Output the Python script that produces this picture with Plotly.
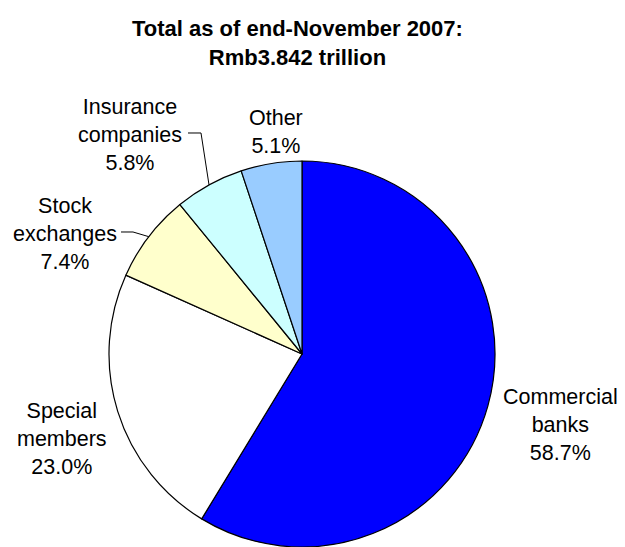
import math
import plotly.graph_objects as go

# ---- data ----
categories = ["Commercial banks", "Special members", "Stock exchanges",
              "Insurance companies", "Other"]
shares = [58.7, 23.0, 7.4, 5.8, 5.1]
label_texts = ["Commercial<br>banks<br>58.7%", "Special<br>members<br>23.0%",
               "Stock<br>exchanges<br>7.4%", "Insurance<br>companies<br>5.8%",
               "Other<br>5.1%"]
colors = ["#0000FF", "#FFFFFF", "#FFFFCC", "#CCFFFF", "#99CCFF"]
title_text = "<b>Total as of end-November 2007:<br>Rmb3.842 trillion</b>"

W, H = 625, 547
FONT = "Liberation Sans, Arial, sans-serif"

# pie geometry in pixels
cx, cy, r = 302, 354, 193

def px(x):
    return x / W

def py(y):
    return 1 - y / H

fig = go.Figure(go.Pie(
    labels=categories,
    values=shares,
    sort=False,
    direction="clockwise",
    rotation=0,
    textinfo="none",
    hoverinfo="label+percent",
    marker=dict(colors=colors, line=dict(color="#000000", width=1.2)),
    domain=dict(x=[px(cx - r), px(cx + r)], y=[py(cy + r), py(cy - r)]),
    showlegend=False,
))

# label positions (pixel centres) – layout only
label_pos = [(560, 425), (62, 439), (65, 234), (130, 135), (276, 132)]
annotations = []
for txt, (lx, ly) in zip(label_texts, label_pos):
    annotations.append(dict(
        text=txt, x=px(lx), y=py(ly), xref="paper", yref="paper",
        xanchor="center", yanchor="middle", showarrow=False, align="center",
        font=dict(family=FONT, size=21.5, color="#000000"),
    ))
annotations.append(dict(
    text=title_text, x=px(297), y=py(43), xref="paper", yref="paper",
    xanchor="center", yanchor="middle", showarrow=False, align="center",
    font=dict(family=FONT, size=22, color="#000000"),
))

# leader lines to the middle of the small slices (computed from the data)
total = sum(shares)
cum = 0
mids = []
for v in shares:
    mids.append((cum + v / 2) / total)
    cum += v

def edge_point(frac):
    ang = 2 * math.pi * frac
    return cx + r * math.sin(ang), cy - r * math.cos(ang)

shapes = []
leaders = {2: [(121, 232), (133, 232)], 3: [(188, 133), (201, 133)]}
for idx, pts in leaders.items():
    ex, ey = edge_point(mids[idx])
    path_pts = pts + [(ex, ey)]
    path = "M " + " L ".join(f"{px(x):.5f},{py(y):.5f}" for x, y in path_pts)
    shapes.append(dict(type="path", path=path, xref="paper", yref="paper",
                       line=dict(color="#000000", width=1)))

fig.update_layout(
    width=W, height=H,
    margin=dict(l=0, r=0, t=0, b=0),
    paper_bgcolor="#FFFFFF",
    plot_bgcolor="#FFFFFF",
    annotations=annotations,
    shapes=shapes,
    font=dict(family=FONT),
)

fig.write_html("out.html")
